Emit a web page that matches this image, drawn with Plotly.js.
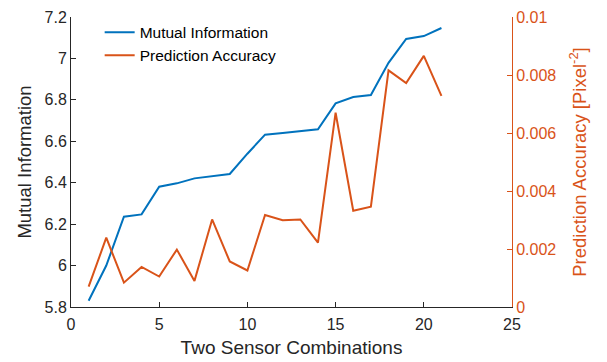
<!DOCTYPE html>
<html>
<head>
<meta charset="utf-8">
<script src="https://cdn.plot.ly/plotly-3.0.1.min.js"></script>
<style>html,body{margin:0;padding:0;background:#fff;}#chart{width:607px;height:362px;}</style>
</head>
<body>
<div id="chart"></div>
<script>
var combos = [1,2,3,4,5,6,7,8,9,10,11,12,13,14,15,16,17,18,19,20,21];
var mutualInfo = [5.83,6.00,6.236,6.247,6.381,6.397,6.421,6.432,6.442,6.54,6.632,6.64,6.65,6.658,6.783,6.814,6.823,6.979,7.094,7.108,7.147];
var predAccuracy = [0.00070,0.00239,0.00084,0.00138,0.00105,0.00198,0.00090,0.00302,0.00157,0.00126,0.00317,0.00299,0.00302,0.00222,0.00670,0.00332,0.00346,0.00816,0.00772,0.00866,0.00728];

var blue = '#0072BD', orange = '#D95319', axisCol = '#262626';
var font = 'Liberation Sans, Arial, Helvetica, sans-serif';

var traces = [
  {x: combos, y: mutualInfo, type: 'scatter', mode: 'lines', name: 'Mutual Information',
   line: {color: blue, width: 2}, yaxis: 'y'},
  {x: combos, y: predAccuracy, type: 'scatter', mode: 'lines', name: 'Prediction Accuracy',
   line: {color: orange, width: 2}, yaxis: 'y2'}
];

var layout = {
  width: 607, height: 362,
  margin: {l: 71, r: 95, t: 17, b: 55},
  paper_bgcolor: '#fff', plot_bgcolor: '#fff',
  font: {family: font, size: 16, color: axisCol},
  showlegend: true,
  legend: {x: 0.065, y: 1.005, xanchor: 'left', yanchor: 'top', bgcolor: 'rgba(0,0,0,0)',
           font: {size: 15.5, color: '#000'}, tracegroupgap: 0},
  xaxis: {range: [0, 25], dtick: 5, tick0: 0, ticks: 'inside', ticklen: 5, tickcolor: axisCol,
          showline: true, linecolor: axisCol, linewidth: 1, showgrid: false, zeroline: false,
          tickfont: {size: 16, color: axisCol}, ticklabelstandoff: 3,
          title: {text: 'Two Sensor Combinations', font: {size: 19, color: axisCol}, standoff: 8}},
  yaxis: {range: [5.8, 7.2], dtick: 0.2, tick0: 5.8, ticks: 'inside', ticklen: 5, tickcolor: axisCol,
          showline: true, linecolor: axisCol, linewidth: 1, showgrid: false, zeroline: false,
          tickfont: {size: 16, color: axisCol},
          title: {text: 'Mutual Information', font: {size: 18.5, color: axisCol}, standoff: 8}},
  yaxis2: {range: [0, 0.01], dtick: 0.002, tick0: 0, overlaying: 'y', side: 'right',
           ticks: 'inside', ticklen: 5, tickcolor: orange,
           showline: true, linecolor: orange, linewidth: 1, showgrid: false, zeroline: false,
           tickfont: {size: 16, color: orange},
           title: {text: 'Prediction Accuracy [Pixel<sup>-2</sup>]', font: {size: 18.5, color: orange}, standoff: 17}}
};

Plotly.newPlot('chart', traces, layout, {displayModeBar: false, staticPlot: true});
</script>
</body>
</html>
